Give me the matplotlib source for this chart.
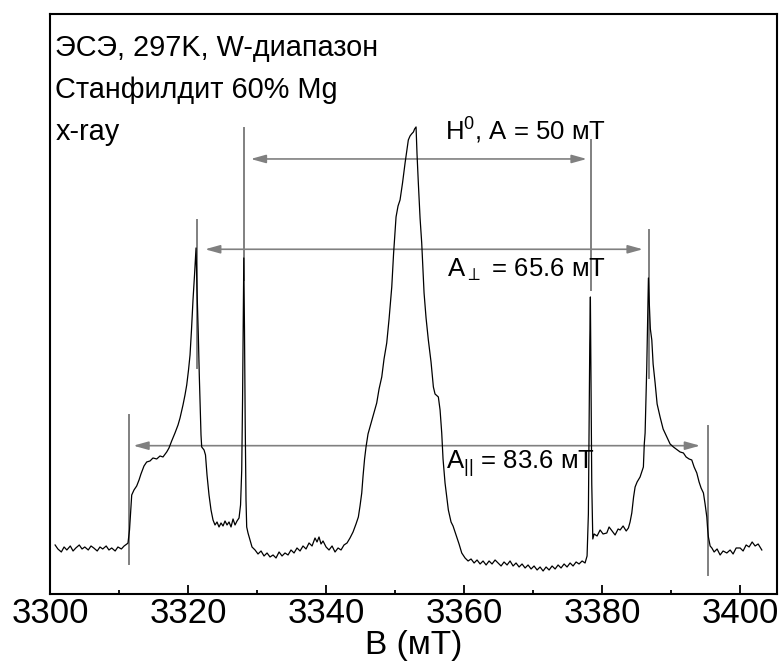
import numpy as np
import matplotlib
matplotlib.use("Agg")
import matplotlib.pyplot as plt
from matplotlib.ticker import MultipleLocator

plt.rcParams['font.family'] = ['Liberation Sans', 'DejaVu Sans']
plt.rcParams['mathtext.fontset'] = 'custom'
plt.rcParams['mathtext.rm'] = 'Liberation Sans'
plt.rcParams['mathtext.default'] = 'regular'

# EPR spectrum: field (mT) and intensity (arb. units)
field = [
    3300.7, 3301.1, 3301.6, 3302.0, 3302.4, 3302.9, 3303.3, 3303.7, 3304.2, 3304.6,
    3305.0, 3305.5, 3305.9, 3306.3, 3306.8, 3307.2, 3307.6, 3308.1, 3308.5, 3308.9,
    3309.4, 3309.8, 3310.3, 3310.7, 3311.1,
    3311.26, 3311.48, 3311.80, 3312.13, 3312.52, 3312.86, 3313.14, 3313.58, 3313.97, 3314.45,
    3314.88, 3315.42, 3315.90, 3316.33, 3316.87, 3317.20, 3317.59, 3318.07, 3318.51, 3318.80,
    3319.23, 3319.52, 3319.77, 3320.03, 3320.25, 3320.46, 3320.68, 3320.90, 3321.12, 3321.26,
    3321.45, 3321.59, 3321.70, 3321.84, 3321.94, 3322.28, 3322.49, 3322.71, 3323.00, 3323.29,
    3323.58, 3323.87, 3324.16, 3324.45, 3324.74, 3325.03, 3325.32, 3325.61, 3325.90, 3326.19,
    3326.48, 3326.77, 3327.06, 3327.35, 3327.57, 3327.74, 3327.86, 3327.96, 3328.04, 3328.14,
    3328.24, 3328.36, 3328.46, 3328.65, 3328.94, 3329.23,
    3329.67, 3330.10, 3330.54, 3330.97, 3331.41, 3331.84, 3332.28, 3332.71, 3333.15, 3333.58,
    3334.01, 3334.45, 3334.88, 3335.32, 3335.75, 3336.19, 3336.62, 3337.06, 3337.49, 3337.93,
    3338.36, 3338.65, 3338.94, 3339.23, 3339.52, 3339.96, 3340.39, 3340.83, 3341.26, 3341.70,
    3342.13, 3342.56, 3343.00, 3343.43, 3343.87, 3344.30, 3344.64, 3344.88, 3345.13, 3345.32,
    3345.54, 3345.75, 3346.04, 3346.33, 3346.77, 3347.30, 3347.64, 3348.03, 3348.36, 3348.75,
    3349.09, 3349.48, 3349.74, 3350.10, 3350.39, 3350.68, 3351.04, 3351.41, 3351.70, 3351.88,
    3352.13, 3352.35, 3352.62, 3352.79, 3353.00, 3353.14, 3353.33, 3353.58, 3353.82, 3354.01,
    3354.16, 3354.45, 3354.78, 3355.17, 3355.51, 3355.75, 3356.23, 3356.48, 3356.72, 3356.91,
    3357.20, 3357.49, 3357.68, 3358.07, 3358.36, 3358.90, 3359.23, 3359.62,
    3360.10, 3360.54, 3360.97, 3361.41, 3361.84, 3362.28, 3362.71, 3363.15, 3363.58, 3364.01,
    3364.45, 3364.88, 3365.32, 3365.75, 3366.19, 3366.62, 3367.06, 3367.49, 3367.93, 3368.36,
    3368.80, 3369.23, 3369.67, 3370.10, 3370.54, 3370.97, 3371.41, 3371.84, 3372.28, 3372.71,
    3373.15, 3373.58, 3374.01, 3374.45, 3374.88, 3375.32, 3375.75, 3376.19, 3376.62, 3377.06,
    3377.49, 3377.78, 3377.97, 3378.07, 3378.17, 3378.26, 3378.36, 3378.46, 3378.61, 3378.80,
    3379.23, 3379.67, 3380.10, 3380.64, 3380.97, 3381.41, 3381.84, 3382.28, 3382.57, 3383.00,
    3383.45, 3383.77, 3384.01, 3384.26, 3384.52, 3384.74, 3385.03, 3385.46, 3385.94, 3386.07,
    3386.19, 3386.33, 3386.43, 3386.55, 3386.67, 3386.80, 3386.95, 3387.16, 3387.35, 3387.64,
    3387.93, 3388.36, 3388.80, 3389.33, 3389.81, 3390.29, 3390.68, 3391.26, 3391.74, 3392.13,
    3392.56, 3392.95, 3393.29, 3393.68, 3394.01, 3394.30, 3394.64, 3394.88, 3395.13, 3395.25,
    3395.36, 3395.61, 3395.86, 3396.19, 3396.62, 3397.06, 3397.49, 3398.03, 3398.51, 3398.94,
    3399.38, 3399.96, 3400.39, 3400.83, 3401.26, 3401.70, 3402.13, 3402.57, 3403.10,
]
signal = [
    49, 45, 42, 47, 44, 48, 43, 46, 49, 45,
    47, 44, 48, 46, 43, 47, 45, 48, 44, 46,
    43, 47, 45, 48, 50,
    51, 64, 99, 104, 108, 114, 120, 128, 132, 133,
    136, 135, 138, 137, 142, 146, 153, 161, 169, 176,
    189, 199, 209, 224, 239, 264, 294, 319, 346, 304,
    259, 219, 194, 159, 147, 144, 139, 119, 99, 84,
    74, 69, 72, 67, 71, 68, 73, 69, 72, 67,
    75, 69, 73, 76, 89, 124, 194, 274, 336, 264,
    174, 94, 67, 61, 54, 47,
    44, 40, 43, 38, 41, 37, 39, 36, 42, 38,
    41, 39, 44, 41, 46, 43, 48, 45, 51, 48,
    56, 52, 57, 50, 53, 47, 44, 48, 42, 46,
    44, 49, 51, 56, 62, 70, 77, 88, 101, 118,
    135, 147, 160, 167, 178, 191, 205, 217, 235, 251,
    275, 307, 340, 377, 388, 394, 411, 431, 445, 454,
    458, 460, 462, 465, 467, 440, 411, 376, 351, 323,
    301, 276, 254, 232, 207, 200, 197, 184, 161, 135,
    111, 95, 84, 72, 68, 57, 50, 41,
    36, 33, 35, 31, 34, 30, 33, 29, 33, 30,
    34, 31, 28, 32, 29, 33, 28, 31, 27, 30,
    26, 29, 25, 28, 24, 27, 23, 27, 24, 28,
    25, 29, 26, 30, 27, 31, 28, 32, 30, 33,
    31, 38, 80, 160, 250, 297, 200, 110, 55, 60,
    58, 64, 60, 61, 67, 63, 59, 65, 64, 68,
    63, 66, 72, 81, 97, 107, 112, 117, 127, 150,
    161, 200, 227, 270, 316, 290, 265, 254, 230, 211,
    190, 177, 165, 157, 150, 147, 145, 142, 141, 137,
    135, 134, 127, 121, 112, 106, 101, 90, 77, 65,
    57, 48, 46, 42, 45, 39, 43, 41, 44, 40,
    46, 46, 43, 49, 47, 52, 48, 50, 44,
]

# marker lines: field, bottom, top
marker_x = [3311.45, 3395.3, 3321.2, 3386.8, 3328.05, 3378.3]
marker_y0 = [30, 19, 226, 216, 314, 304]
marker_y1 = [179, 168, 374, 364, 466, 454]

# splitting arrows: left end, right end, level
arrow_left = [3329.04, 3322.42, 3312.03]
arrow_right = [3377.74, 3385.86, 3394.16]
arrow_level = [435, 344.7, 148.3]

label_text = ['H$^0$, A = 50 мT', 'A$_{\\bot}$ = 65.6 мT', 'A$_{||}$ = 83.6 мT']
label_x = [3357.2, 3357.5, 3357.4]
label_y = [454, 317, 125]

info_lines = ['ЭСЭ, 297K, W-диапазон', 'Станфилдит 60% Mg', 'x-ray']

fig = plt.figure(figsize=(7.82, 6.68), dpi=100)
ax = fig.add_axes([0.0643, 0.1108, 0.9293, 0.8683])

grey = '#808080'
for x, y0, y1 in zip(marker_x, marker_y0, marker_y1):
    ax.plot([x, x], [y0, y1], color=grey, lw=1.4, zorder=1)

for x0, x1, y in zip(arrow_left, arrow_right, arrow_level):
    ax.annotate('', xy=(x1, y), xytext=(x0, y),
                arrowprops=dict(arrowstyle='<|-|>,head_length=0.9,head_width=0.25',
                                color=grey, lw=1.2, shrinkA=0, shrinkB=0),
                zorder=1)

ax.plot(field, signal, color='black', lw=0.9, zorder=2)

for t, x, y in zip(label_text, label_x, label_y):
    ax.text(x, y, t, fontsize=18.5, va='baseline', ha='left')

for i, t in enumerate(info_lines):
    ax.text(0.007, 0.9276 - i * 0.0724, t, transform=ax.transAxes,
            fontsize=20.8, va='baseline', ha='left')

ax.set_xlim(3300, 3405.3)
ax.set_ylim(0, 580)
ax.set_yticks([])
ax.xaxis.set_major_locator(MultipleLocator(20))
ax.xaxis.set_minor_locator(MultipleLocator(10))
ax.tick_params(axis='x', which='major', direction='in', length=6.5, width=1.3,
               labelsize=25, pad=2)
ax.tick_params(axis='x', which='minor', direction='in', length=3.2, width=1.3)
ax.tick_params(top=False, right=False)
for s in ax.spines.values():
    s.set_linewidth(1.5)

ax.set_xlabel('B (мT)', fontsize=24, labelpad=0)

fig.savefig('out.png', dpi=100)
